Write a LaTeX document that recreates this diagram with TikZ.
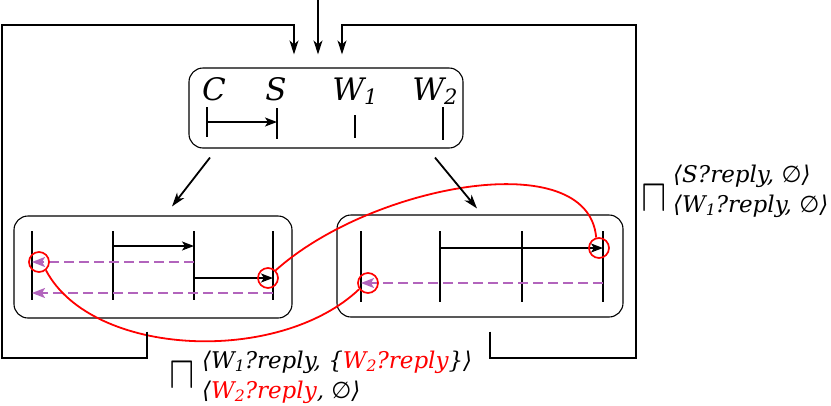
\documentclass[tikz,border=0pt]{standalone}
\usepackage{fontspec}
\setmainfont{DejaVu Serif}
\newfontfamily\glyphfont{DejaVu Sans}
\usetikzlibrary{arrows.meta}

\definecolor{retviolet}{RGB}{178,100,188}

\newcommand\lsub[1]{\raisebox{-0.3ex}{\scalebox{0.68}{#1}}}
\newcommand\lang{{\glyphfont ⟨}}
\newcommand\rang{{\glyphfont ⟩}}
\newcommand\nothing{{\glyphfont ∅}}

\tikzset{
    box/.style = {draw, rounded corners=14pt, line width=1.1pt, inner sep=0pt},
    lbl/.style = {font=\fontsize{31}{31}\selectfont\itshape, anchor=base, inner sep=0pt},
    life/.style = {line width=1.8pt},
    msg/.style = {line width=1.6pt, -{Stealth[length=12pt, width=9pt, inset=3pt]}},
    ret/.style = {line width=1.9pt, retviolet, dash pattern=on 10pt off 5pt, -{Stealth[length=13pt, width=10pt, inset=3pt]}},
    hit/.style = {circle, draw=red, line width=1.7pt, minimum size=20pt, inner sep=0pt},
    loop/.style = {red, line width=1.8pt},
    flow/.style = {line width=1.8pt, -{Stealth[length=14pt, width=9pt, inset=4pt]}},
    meet/.style = {inner sep=0pt},
    state/.style = {font=\fontsize{23}{30}\selectfont\itshape, align=left, anchor=west, inner sep=0pt},
}

\begin{document}
\begin{tikzpicture}[x = 1pt, y = -1pt]
    \useasboundingbox (0,0) rectangle (831,405);
    % boxes
    \node[box, minimum width=274pt, minimum height=80pt] (top) at (326,108) {};
    \node[box, minimum width=278pt, minimum height=102pt] (left) at (153,267) {};
    \node[box, minimum width=286pt, minimum height=102pt] (right) at (480,266) {};
    % top box
    \node[lbl] (C) at (214,100) {C};
    \node[lbl] (S) at (276,100) {S};
    \node[lbl] (W1) at (355,100) {W\lsub{1}};
    \node[lbl] (W2) at (435,100) {W\lsub{2}};
    \draw[life] (207,107) -- (207,137);
    \draw[life] (277,108) -- (277,139);
    \draw[life] (355,115) -- (355,138);
    \draw[life] (443,107) -- (443,140);
    \draw[msg] (207,122) -- (277,122);
    % left box
    \coordinate (l1) at (32,231);
    \coordinate (l2) at (113,231);
    \coordinate (l3) at (194,231);
    \coordinate (l4) at (273,231);
    \foreach \l in {l1,l2,l3,l4}
        \draw[life] (\l) -- (\l |- 0,300);
    \draw[msg] (l2 |- 0,246) -- (l3 |- 0,246);
    \draw[ret] (l3 |- 0,262) -- (l1 |- 0,262);
    \draw[msg] (l3 |- 0,278) -- (l4 |- 0,278);
    \draw[ret] (l4 |- 0,293) -- (l1 |- 0,293);
    % right box
    \coordinate (r1) at (361,231);
    \coordinate (r2) at (440,231);
    \coordinate (r3) at (522,231);
    \coordinate (r4) at (603,231);
    \foreach \r in {r1,r2,r3,r4}
        \draw[life] (\r) -- (\r |- 0,302);
    \draw[msg] (r2 |- 0,248) -- (r4 |- 0,248);
    \draw[ret] (r4 |- 0,283) -- (r1 |- 0,283);
    % red links
    \node[hit] (hitA) at (39,262) {};
    \node[hit] (hitB) at (268,278) {};
    \node[hit] (hitC) at (368,283) {};
    \node[hit] (hitD) at (599,248) {};
    \draw[loop] (hitB.45) .. controls +(96,-86) and +(-8,-93) .. (hitD.105);
    \draw[loop] (hitA.-50) .. controls +(46,87) and +(-80,76) .. (hitC.215);
    % arrows
    \coordinate (in) at (318,0);
    \draw[flow] (in) -- ([xshift=-8pt, yshift=13pt]top.north);
    \draw[flow] ([xshift=-116pt, yshift=-9pt]top.south) -- ([xshift=19pt, yshift=9pt]left.north);
    \draw[flow] ([xshift=109pt, yshift=-9pt]top.south) -- ([xshift=-3pt, yshift=6pt]right.north);
    \draw[flow] ([xshift=-6pt, yshift=-13pt]left.south) |- (2,358) -- (2,25) -| ([xshift=-32pt, yshift=13pt]top.north);
    \draw[flow] ([xshift=10pt, yshift=-14pt]right.south) |- (636,358) -- (636,25) -| ([xshift=16pt, yshift=13pt]top.north);
    % states
    \node[meet] (mR) at (654,199) {\scalebox{3.8}[4.6]{$\sqcap$}};
    \node[state] (sR) at (673,191) {\lang S?reply, \nothing\rang\\\lang W\lsub{1}?reply, \nothing\rang};
    \node[meet] (mL) at (182,376) {\scalebox{3.8}[4.6]{$\sqcap$}};
    \node[state] (sL) at (202,377) {\lang W\lsub{1}?reply, \{\textcolor{red}{W\lsub{2}?reply}\}\rang\\\lang\textcolor{red}{W\lsub{2}?reply}, \nothing\rang};
\end{tikzpicture}
\end{document}
